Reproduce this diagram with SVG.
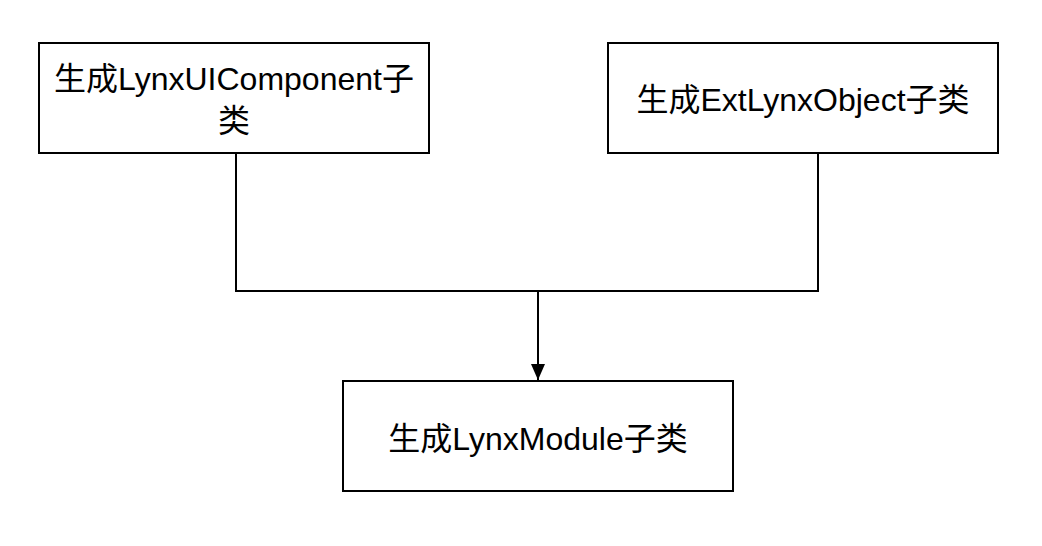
<svg xmlns="http://www.w3.org/2000/svg" width="1042" height="546" viewBox="0 0 1042 546">
<style>
.box{fill:#fff;stroke:#000;stroke-width:2}
.lbl{font-family:"Liberation Sans","Noto Sans CJK SC",sans-serif;font-size:32px;fill:#000;text-anchor:middle}
.edge{fill:none;stroke:#000;stroke-width:2}
</style>
<defs>
<marker id="arr" markerUnits="userSpaceOnUse" markerWidth="16" markerHeight="20" refX="16" refY="8" orient="auto" viewBox="0 0 16 16">
<path d="M0,1 L16,8 L0,15 Z" fill="#000"/>
</marker>
</defs>
<rect width="1042" height="546" fill="#fff"/>
<g id="connectors">
<path class="edge" d="M236,153 V291 H818 V153"/>
<path class="edge" d="M538,291 V380" marker-end="url(#arr)"/>
</g>
<g id="node1">
<rect class="box" x="39" y="43" width="390" height="110"/>
<text class="lbl" x="234" y="90">生成LynxUIComponent子</text>
<text class="lbl" x="234" y="132">类</text>
</g>
<g id="node2">
<rect class="box" x="608" y="43" width="390" height="110"/>
<text class="lbl" x="803" y="111">生成ExtLynxObject子类</text>
</g>
<g id="node3">
<rect class="box" x="343" y="381" width="390" height="110"/>
<text class="lbl" x="538" y="450">生成LynxModule子类</text>
</g>
</svg>
